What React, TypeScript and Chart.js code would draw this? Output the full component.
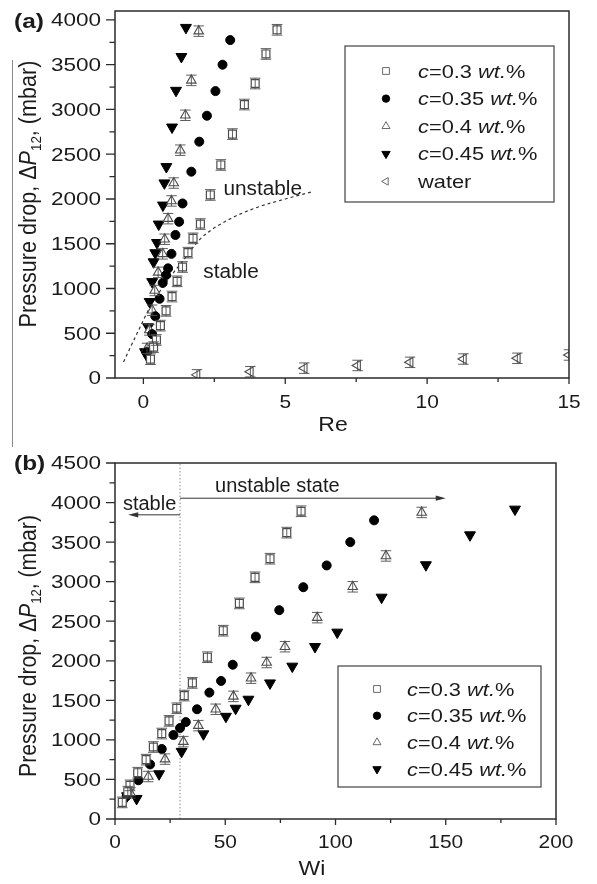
import React, { useEffect, useRef } from 'react';
import { Chart, registerables } from 'chart.js';
import { drawPoint } from 'chart.js/helpers';

Chart.register(...registerables);

const FONT = '"Liberation Sans", Arial, Helvetica, sans-serif';
const INK = '#1b1b1b';

// ---------------- data ----------------
const seriesLabels = ['c=0.3 wt.%', 'c=0.35 wt.%', 'c=0.4 wt.%', 'c=0.45 wt.%', 'water'];

// c = 0.3 wt.%
const reC030 = [4.71, 4.32, 3.94, 3.56, 3.14, 2.73, 2.36, 2.01, 1.75, 1.57, 1.38, 1.19, 1.01, 0.8, 0.6, 0.46, 0.36, 0.25];
const wiC030 = [84.4, 77.9, 70.3, 63.5, 56.4, 49.1, 41.9, 35.1, 31.4, 28.0, 24.5, 21.2, 17.4, 14.1, 10.3, 6.8, 5.8, 3.3];
const dpC030 = [3890, 3620, 3290, 3055, 2725, 2380, 2045, 1720, 1560, 1400, 1240, 1080, 910, 750, 585, 425, 345, 210];

// c = 0.35 wt.%
const reC035 = [3.06, 2.79, 2.54, 2.24, 1.97, 1.69, 1.38, 1.26, 1.13, 0.99, 0.87, 0.8, 0.68, 0.57, 0.42, 0.31, 0.13];
const wiC035 = [117.5, 106.7, 96.0, 85.4, 74.5, 63.9, 53.4, 48.1, 42.8, 37.2, 32.1, 29.5, 26.5, 21.2, 15.9, 10.6, 5.3];
const dpC035 = [3775, 3500, 3205, 2930, 2640, 2305, 1950, 1745, 1598, 1387, 1225, 1150, 1062, 885, 690, 490, 290];

// c = 0.4 wt.%
const reC040 = [1.95, 1.69, 1.48, 1.3, 1.07, 0.99, 0.87, 0.75, 0.68, 0.52, 0.4, 0.31, 0.21, 0.13];
const wiC040 = [139.1, 122.9, 107.8, 91.7, 77.1, 68.8, 61.7, 53.7, 45.7, 37.8, 31.0, 22.7, 15.1, 7.0];
const dpC040 = [3875, 3325, 2935, 2545, 2178, 1978, 1780, 1550, 1387, 1180, 978, 757, 537, 330];

// c = 0.45 wt.%
const reC045 = [1.5, 1.34, 1.15, 1.01, 0.81, 0.74, 0.69, 0.54, 0.48, 0.42, 0.36, 0.31, 0.22, 0.17, 0.06, 0.11];
const wiC045 = [181.4, 161.0, 141.0, 120.9, 100.8, 90.7, 80.4, 70.3, 60.5, 54.7, 50.3, 40.1, 30.2, 20.0, 5.5, 9.8];
const dpC045 = [3915, 3590, 3212, 2802, 2360, 2178, 1930, 1718, 1512, 1398, 1296, 1075, 853, 570, 292, 258];

// water
const reWater = [1.89, 3.77, 5.67, 7.55, 9.4, 11.28, 13.18, 15.0];
const dpWater = [35, 70, 110, 140, 175, 212, 220, 257];

// stable / unstable boundary (dashed curve)
const reBoundary = [-0.7, -0.22, 0.25, 0.83, 1.42, 2.01, 2.95, 4.0, 5.0, 5.95];
const dpBoundary = [180, 500, 800, 1080, 1320, 1555, 1760, 1905, 2000, 2080];

// critical Wi (dotted line) and arrows in panel (b)
const wiCritical = 29.5;
const arrowUnstable = { from: 29.5, to: 150, dp: 4055 };
const arrowStable = { from: 29.5, to: 6, dp: 3845 };

// ticks
const reTicks = [0, 5, 10, 15];
const reTickLabels = ['0', '5', '10', '15'];
const reMinorTicks = [2.5, 7.5, 12.5];
const dpTicksA = [0, 500, 1000, 1500, 2000, 2500, 3000, 3500, 4000];
const dpTickLabelsA = ['0', '500', '1000', '1500', '2000', '2500', '3000', '3500', '4000'];
const dpMinorA = [250, 750, 1250, 1750, 2250, 2750, 3250, 3750];
const wiTicks = [0, 50, 100, 150, 200];
const wiTickLabels = ['0', '50', '100', '150', '200'];
const wiMinorTicks = [25, 75, 125, 175];
const dpTicksB = [0, 500, 1000, 1500, 2000, 2500, 3000, 3500, 4000, 4500];
const dpTickLabelsB = ['0', '500', '1000', '1500', '2000', '2500', '3000', '3500', '4000', '4500'];
const dpMinorB = [250, 750, 1250, 1750, 2250, 2750, 3250, 3750, 4250];

// ---------------- styles ----------------
type SeriesStyle = { pointStyle: any; radius: number; rotation: number; fill: string; stroke: string; bw: number; legendRadius: number };
const seriesStyles: SeriesStyle[] = [
  { pointStyle: 'rect', radius: 5.6, rotation: 0, fill: '#ffffff', stroke: '#4d4d4d', bw: 1.2, legendRadius: 4.8 },
  { pointStyle: 'circle', radius: 4.5, rotation: 0, fill: '#000000', stroke: '#000000', bw: 1, legendRadius: 3.7 },
  { pointStyle: 'triangle', radius: 5.5, rotation: 0, fill: '#ffffff', stroke: '#4d4d4d', bw: 1.1, legendRadius: 4.6 },
  { pointStyle: 'triangle', radius: 6.3, rotation: 180, fill: '#000000', stroke: '#000000', bw: 1, legendRadius: 4.8 },
  { pointStyle: 'triangle', radius: 5.5, rotation: 270, fill: '#ffffff', stroke: '#4d4d4d', bw: 1.1, legendRadius: 4.4 },
];

type Part = { t: string; i?: boolean; sub?: boolean };
type TextStyle = { size: number; sx?: number; sy?: number; align?: 'left' | 'center' | 'right'; bold?: boolean; rotate?: number; color?: string };

function fontFor(size: number, p: Part, bold?: boolean) {
  return `${p.i ? 'italic ' : ''}${bold ? 'bold ' : ''}${size}px ${FONT}`;
}

function drawParts(ctx: CanvasRenderingContext2D, parts: Part[], x: number, y: number, st: TextStyle) {
  const size = st.size;
  ctx.save();
  ctx.translate(x, y);
  if (st.rotate) ctx.rotate(st.rotate);
  ctx.scale(st.sx ?? 1, st.sy ?? 1);
  ctx.textAlign = 'left';
  ctx.textBaseline = 'alphabetic';
  ctx.fillStyle = st.color ?? INK;
  let w = 0;
  for (const p of parts) {
    ctx.font = fontFor(p.sub ? size * 0.62 : size, p, st.bold);
    w += ctx.measureText(p.t).width;
  }
  let cx = st.align === 'center' ? -w / 2 : st.align === 'right' ? -w : 0;
  const base = size * 0.358;
  for (const p of parts) {
    const s = p.sub ? size * 0.62 : size;
    ctx.font = fontFor(s, p, st.bold);
    ctx.fillText(p.t, cx, base + (p.sub ? size * 0.24 : 0));
    cx += ctx.measureText(p.t).width;
  }
  ctx.restore();
}

const plain = (t: string): Part[] => [{ t }];
const labelParts = (label: string): Part[] =>
  label
    .split(/(^c(?==)|wt\.)/)
    .filter((s) => s.length > 0)
    .map((t) => ({ t, i: t === 'c' || t === 'wt.' }));

const yTitleParts: Part[] = [{ t: 'Pressure drop, Δ' }, { t: 'P', i: true }, { t: '12', sub: true }, { t: ', (mbar)' }];

function seriesData(xs: number[], ys: number[]) {
  return xs.map((x, i) => ({ x, y: ys[i] }));
}

function scatterDs(idx: number, data: { x: number; y: number }[]) {
  const s = seriesStyles[idx];
  return {
    label: seriesLabels[idx],
    data,
    showLine: false,
    pointStyle: s.pointStyle,
    pointRadius: s.radius,
    pointHoverRadius: s.radius,
    pointRotation: s.rotation,
    pointBackgroundColor: s.fill,
    pointBorderColor: s.stroke,
    pointBorderWidth: s.bw,
  };
}

type Decor = {
  xMajor: number[]; xLabels: string[]; xMinor: number[];
  yMajor: number[]; yLabels: string[]; yMinor: number[];
  xLabelStyle: TextStyle; yLabelStyle: TextStyle; xLabelOffset: number; yLabelOffset: number;
  xTitle: string; xTitlePos: { x: number; y: number }; xTitleStyle: TextStyle;
  yTitlePos: { x: number; y: number }; yTitleStyle: TextStyle;
  panelLabel: string; panelLabelPos: { x: number; y: number };
  notes: { text: string; x: number; y: number }[]; noteStyle: TextStyle;
  legend: { x: number; y: number; w: number; h: number; markerX: number; textX: number; row0: number; gap: number; count: number; style: TextStyle };
  errorSets: number[];
  arrows: { from: number; to: number; dp: number }[];
};

function decorPlugin(d: Decor) {
  return {
    id: 'decor',
    afterDatasetsDraw(chart: any) {
      const { ctx, chartArea: a } = chart;
      ctx.save();
      ctx.beginPath();
      ctx.rect(a.left, a.top, a.right - a.left, a.bottom - a.top);
      ctx.clip();
      for (const i of d.errorSets) {
        const s = seriesStyles[i];
        const meta = chart.getDatasetMeta(i);
        ctx.strokeStyle = s.stroke;
        ctx.lineWidth = 0.9;
        for (const pt of meta.data) {
          const h = s.radius * 0.95;
          const c = s.radius * 0.95;
          ctx.beginPath();
          ctx.moveTo(pt.x, pt.y - h);
          ctx.lineTo(pt.x, pt.y + h);
          ctx.moveTo(pt.x - c, pt.y - h);
          ctx.lineTo(pt.x + c, pt.y - h);
          ctx.moveTo(pt.x - c, pt.y + h);
          ctx.lineTo(pt.x + c, pt.y + h);
          ctx.stroke();
        }
      }
      ctx.restore();
    },
    afterDraw(chart: any) {
      const { ctx, chartArea: a, scales } = chart;
      const xs = scales.x;
      const ys = scales.y;
      ctx.save();
      // frame
      ctx.strokeStyle = '#2b2b2b';
      ctx.lineWidth = 1.5;
      ctx.strokeRect(a.left, a.top, a.right - a.left, a.bottom - a.top);
      // ticks
      ctx.lineWidth = 1.3;
      ctx.beginPath();
      for (const v of d.xMajor) {
        const px = xs.getPixelForValue(v);
        ctx.moveTo(px, a.bottom);
        ctx.lineTo(px, a.bottom + 6);
      }
      for (const v of d.xMinor) {
        const px = xs.getPixelForValue(v);
        ctx.moveTo(px, a.bottom);
        ctx.lineTo(px, a.bottom + 4);
      }
      for (const v of d.yMajor) {
        const py = ys.getPixelForValue(v);
        ctx.moveTo(a.left, py);
        ctx.lineTo(a.left - 9, py);
      }
      for (const v of d.yMinor) {
        const py = ys.getPixelForValue(v);
        ctx.moveTo(a.left, py);
        ctx.lineTo(a.left - 5.5, py);
      }
      ctx.stroke();
      // tick labels
      d.xMajor.forEach((v, i) => {
        drawParts(ctx, plain(d.xLabels[i]), xs.getPixelForValue(v), a.bottom + d.xLabelOffset, { ...d.xLabelStyle, align: 'center' });
      });
      d.yMajor.forEach((v, i) => {
        drawParts(ctx, plain(d.yLabels[i]), a.left - d.yLabelOffset, ys.getPixelForValue(v), { ...d.yLabelStyle, align: 'right' });
      });
      // titles
      drawParts(ctx, plain(d.xTitle), d.xTitlePos.x, d.xTitlePos.y, { ...d.xTitleStyle, align: 'center' });
      drawParts(ctx, yTitleParts, d.yTitlePos.x, d.yTitlePos.y, { ...d.yTitleStyle, align: 'center', rotate: -Math.PI / 2 });
      drawParts(ctx, plain(d.panelLabel), d.panelLabelPos.x, d.panelLabelPos.y, { size: 20, sx: 1.22, bold: true, align: 'left' });
      // notes
      for (const n of d.notes) {
        drawParts(ctx, plain(n.text), xs.getPixelForValue(n.x), ys.getPixelForValue(n.y), { ...d.noteStyle, align: 'left' });
      }
      // arrows
      ctx.strokeStyle = '#333';
      ctx.fillStyle = '#333';
      ctx.lineWidth = 1;
      for (const ar of d.arrows) {
        const x0 = xs.getPixelForValue(ar.from);
        const x1 = xs.getPixelForValue(ar.to);
        const py = ys.getPixelForValue(ar.dp);
        const dir = x1 > x0 ? 1 : -1;
        ctx.beginPath();
        ctx.moveTo(x0, py);
        ctx.lineTo(x1 - dir * 6, py);
        ctx.stroke();
        ctx.beginPath();
        ctx.moveTo(x1, py);
        ctx.lineTo(x1 - dir * 10, py - 2.6);
        ctx.lineTo(x1 - dir * 10, py + 2.6);
        ctx.closePath();
        ctx.fill();
      }
      // legend
      const L = d.legend;
      ctx.strokeStyle = '#505050';
      ctx.lineWidth = 1.3;
      ctx.strokeRect(L.x, L.y, L.w, L.h);
      for (let i = 0; i < L.count; i++) {
        const s = seriesStyles[i];
        const ry = L.row0 + i * L.gap;
        ctx.fillStyle = s.fill;
        ctx.strokeStyle = s.fill === '#ffffff' ? '#6a6a6a' : s.stroke;
        ctx.lineWidth = 1;
        drawPoint(ctx, { pointStyle: s.pointStyle, rotation: s.rotation, radius: s.legendRadius, borderWidth: 1 } as any, L.markerX, ry);
        drawParts(ctx, labelParts(seriesLabels[i]), L.textX, ry, { ...L.style, align: 'left' });
      }
      ctx.restore();
    },
  };
}

function baseOptions(pad: { left: number; right: number; top: number; bottom: number }, x: [number, number], y: [number, number]) {
  return {
    responsive: false,
    animation: false as const,
    devicePixelRatio: 1,
    events: [] as any[],
    layout: { padding: pad },
    plugins: { legend: { display: false }, tooltip: { enabled: false }, title: { display: false } },
    scales: {
      x: { type: 'linear' as const, min: x[0], max: x[1], display: false },
      y: { type: 'linear' as const, min: y[0], max: y[1], display: false },
    },
  };
}

const tickStyleY: TextStyle = { size: 18, sx: 1.25 };
const tickStyleX: TextStyle = { size: 19, sx: 1.1 };
const legendStyle: TextStyle = { size: 18.5, sx: 1.18 };
const noteStyle: TextStyle = { size: 20, sx: 1.04 };

function configA(): any {
  const datasets: any[] = [
    scatterDs(0, seriesData(reC030, dpC030)),
    scatterDs(1, seriesData(reC035, dpC035)),
    scatterDs(2, seriesData(reC040, dpC040)),
    scatterDs(3, seriesData(reC045, dpC045)),
    scatterDs(4, seriesData(reWater, dpWater)),
    {
      label: 'stability boundary',
      data: seriesData(reBoundary, dpBoundary),
      showLine: true,
      borderColor: '#333333',
      borderWidth: 1.2,
      borderDash: [3, 3],
      pointRadius: 0,
      cubicInterpolationMode: 'monotone',
      fill: false,
    },
  ];
  const decor: Decor = {
    xMajor: reTicks, xLabels: reTickLabels, xMinor: reMinorTicks,
    yMajor: dpTicksA, yLabels: dpTickLabelsA, yMinor: dpMinorA,
    xLabelStyle: tickStyleX, yLabelStyle: tickStyleY, xLabelOffset: 23, yLabelOffset: 14,
    xTitle: 'Re', xTitlePos: { x: 333, y: 424 }, xTitleStyle: { size: 20, sx: 1.15 },
    yTitlePos: { x: 27, y: 194 }, yTitleStyle: { size: 21.6, sy: 1.12 },
    panelLabel: '(a)', panelLabelPos: { x: 14, y: 21 },
    notes: [
      { text: 'unstable', x: 2.82, y: 2123 },
      { text: 'stable', x: 2.11, y: 1199 },
    ],
    noteStyle,
    legend: { x: 345, y: 46, w: 209, h: 156, markerX: 386, textX: 418, row0: 71, gap: 27.6, count: 5, style: legendStyle },
    errorSets: [0, 2, 4],
    arrows: [],
  };
  return {
    type: 'scatter',
    data: { datasets },
    options: baseOptions({ left: 115, right: 28, top: 11, bottom: 62 }, [-1, 15], [0, 4100]),
    plugins: [decorPlugin(decor)],
  };
}

function configB(): any {
  const datasets: any[] = [
    scatterDs(0, seriesData(wiC030, dpC030)),
    scatterDs(1, seriesData(wiC035, dpC035)),
    scatterDs(2, seriesData(wiC040, dpC040)),
    scatterDs(3, seriesData(wiC045, dpC045)),
    {
      label: 'critical Wi',
      data: seriesData([wiCritical, wiCritical], [0, 4500]),
      showLine: true,
      borderColor: '#8a8a8a',
      borderWidth: 1,
      borderDash: [1.5, 2],
      pointRadius: 0,
      fill: false,
    },
  ];
  const decor: Decor = {
    xMajor: wiTicks, xLabels: wiTickLabels, xMinor: wiMinorTicks,
    yMajor: dpTicksB, yLabels: dpTickLabelsB, yMinor: dpMinorB,
    xLabelStyle: tickStyleX, yLabelStyle: tickStyleY, xLabelOffset: 22, yLabelOffset: 14,
    xTitle: 'Wi', xTitlePos: { x: 312, y: 428 }, xTitleStyle: { size: 20, sx: 1.15 },
    yTitlePos: { x: 27, y: 206 }, yTitleStyle: { size: 21.2, sy: 1.12 },
    panelLabel: '(b)', panelLabelPos: { x: 14, y: 23 },
    notes: [
      { text: 'unstable state', x: 45.4, y: 4222 },
      { text: 'stable', x: 3.6, y: 3999 },
    ],
    noteStyle: { size: 20, sx: 1.0 },
    legend: { x: 338, y: 226, w: 203, h: 121, markerX: 377, textX: 407, row0: 249, gap: 26.7, count: 4, style: legendStyle },
    errorSets: [0, 2],
    arrows: [arrowUnstable, arrowStable],
  };
  return {
    type: 'scatter',
    data: { datasets },
    options: baseOptions({ left: 115, right: 41, top: 23, bottom: 65 }, [0, 200], [0, 4500]),
    plugins: [decorPlugin(decor)],
  };
}

export default function App() {
  const refA = useRef<HTMLCanvasElement>(null);
  const refB = useRef<HTMLCanvasElement>(null);
  useEffect(() => {
    const a = new Chart(refA.current as HTMLCanvasElement, configA());
    const b = new Chart(refB.current as HTMLCanvasElement, configB());
    return () => {
      a.destroy();
      b.destroy();
    };
  }, []);
  return (
    <div style={{ position: 'absolute', left: 0, top: 0, width: 597, height: 884, background: '#ffffff', overflow: 'hidden' }}>
      <canvas ref={refA} width={597} height={440} style={{ position: 'absolute', left: 0, top: 0, width: 597, height: 440 }} />
      <canvas ref={refB} width={597} height={444} style={{ position: 'absolute', left: 0, top: 440, width: 597, height: 444 }} />
      <div style={{ position: 'absolute', left: 12, top: 60, width: 0, height: 387, borderLeft: '1.5px solid #8a8a8a' }} />
    </div>
  );
}
